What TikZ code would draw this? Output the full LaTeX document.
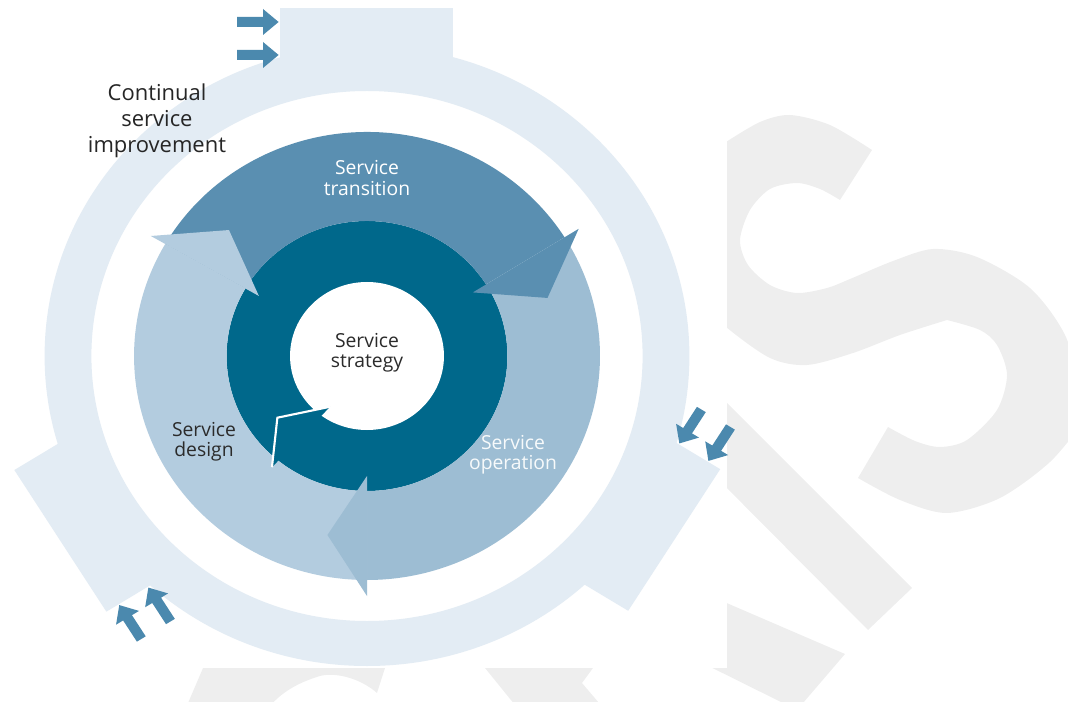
\documentclass[tikz,border=0pt]{standalone}
\usepackage{fontspec}
\setmainfont{Open Sans}
\definecolor{csiblue}{HTML}{E3ECF4}
\definecolor{stratblue}{HTML}{00688B}
\definecolor{transblue}{HTML}{5A8FB1}
\definecolor{operblue}{HTML}{9DBDD3}
\definecolor{designblue}{HTML}{B3CCDF}
\definecolor{arrowblue}{HTML}{4B89AE}
\definecolor{wmgray}{HTML}{EEEEEE}
\definecolor{labeldark}{HTML}{2B2B2B}

\begin{document}
\begin{tikzpicture}[x=0.02cm, y=-0.02cm,
    phase/.style={align=center, inner sep=0pt, font=\fontsize{11}{11.5}\selectfont},
    flowarrow/.pic={\fill[arrowblue] (0,0) -- (-15,13) -- (-15,5) -- (-40,5) -- (-40,-5) -- (-15,-5) -- (-15,-13) -- cycle;}]
\useasboundingbox (0,0) rectangle (1068,702);

% watermark behind the picture
\fill[wmgray] (872,150) -- (840,200)
  -- plot[smooth] coordinates {(840,200) (820,189) (797,183) (770,189) (750,210) (740,240) (748,265) (770,285) (797,293) (827,288) (850,279) (893,261) (933,249) (977,257) (1030,288) (1065,335) (1085,400)}
  -- (1085,420)
  -- plot[smooth] coordinates {(1085,420) (1050,462) (1000,498) (947,513) (900,500) (858,478)}
  -- (888,427)
  -- plot[smooth] coordinates {(888,427) (915,441) (940,447) (967,440) (997,410) (1007,375) (997,345) (980,330) (947,320)}
  -- plot[smooth] coordinates {(947,320) (900,335) (853,353) (807,365) (770,358) (726,327) (700,300)}
  -- (690,160) -- (726,142)
  -- plot[smooth] coordinates {(726,142) (760,122) (790,115) (830,125) (872,150)} -- cycle;
\fill[wmgray] (700,376) -- (912,588) -- (868,630) -- (700,461) -- cycle;
\fill[wmgray] (650,570) -- (845,654) -- (797,710) -- (650,637) -- cycle;
\fill[wmgray] (203,668) -- (385,668) -- (377,693)
  .. controls (360,678) and (335,672) .. (320,676)
  .. controls (300,682) and (280,692) .. (267,710) -- (185,710) -- cycle;
\fill[wmgray] (485,668) -- (593,668) -- (582,683) -- (605,710) -- (519,710) -- cycle;
\fill[white] (0,0) rectangle (727,668);

\begin{scope}[shift={(367,356)}, yscale=-1, xscale=1.04]
  % continual service improvement ring
  \fill[csiblue, even odd rule] (0,0) circle[radius=310] (0,0) circle[radius=265];
  \foreach \a in {0,-122,122} {
    \begin{scope}[rotate=\a]
      \fill[csiblue] (-84,285) -- (83,285) -- (83,348) -- (-84,348) -- cycle;
      \pic[transform shape] at (-85,334) {flowarrow};
      \pic[transform shape] at (-85,301) {flowarrow};
    \end{scope}
  }
  % strategy ring
  \fill[stratblue] (0,0) circle[radius=135];
  \fill[white] (0,0) circle[radius=74];
  % three phase arrows
  \fill[transblue] (150:224) arc[start angle=150, end angle=32, radius=224]
    -- (32:135) arc[start angle=32, end angle=150, radius=135] -- cycle;
  \fill[operblue] (32:224) arc[start angle=32, end angle=-90, radius=224]
    -- (-90:135) arc[start angle=-90, end angle=32, radius=135] -- cycle;
  \fill[designblue] (-90:224) arc[start angle=-90, end angle=-210, radius=224]
    -- (-210:135) arc[start angle=-210, end angle=-90, radius=135] -- cycle;
  \fill[transblue] (32:120) -- (32:240) -- (18.5:183) -- cycle;
  \fill[operblue] (-90:120) -- (-90:240) -- (-102:183) -- cycle;
  \fill[designblue] (150:120) -- (150:240) -- (136.5:183) -- cycle;
  % head of the strategy arrow
  \fill[stratblue] (230.6:144) -- (215.6:106) -- (235:62) -- cycle;
  \draw[white, line width=1.2pt] (230.6:144) -- (215.6:106) -- (235:62);
\end{scope}

\node[phase, text=white] (transition) at (367,178) {Service\\transition};
\node[phase, text=labeldark] (strategy) at (367,353) {Service\\strategy};
\node[phase, text=labeldark] (design) at (204,442) {Service\\design};
\node[phase, text=white!92!operblue] (operation) at (513,455) {Service\\operation};
\node[phase, font=\fontsize{12.5}{14.8}\selectfont, text=black!85] (csi) at (157,121)
  {Continual\\service\\improvement};
\end{tikzpicture}
\end{document}
